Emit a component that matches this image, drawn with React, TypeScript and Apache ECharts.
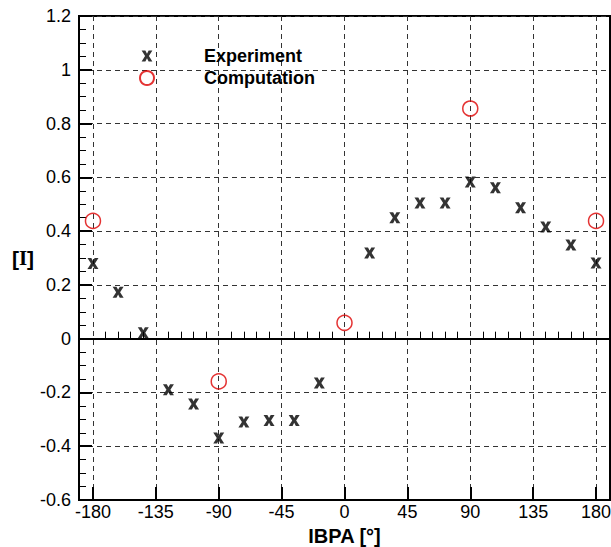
import React, { useEffect, useRef } from "react";
import * as echarts from "echarts";

const expAngles = [-180, -162, -144, -126, -108, -90, -72, -54, -36, -18, 18, 36, 54, 72, 90, 108, 126, 144, 162, 180];
const expValues = [0.28, 0.173, 0.022, -0.19, -0.243, -0.369, -0.31, -0.304, -0.304, -0.165, 0.319, 0.45, 0.505, 0.505, 0.583, 0.561, 0.487, 0.415, 0.348, 0.281];
const compAngles = [-180, -90, 0, 90, 180];
const compValues = [0.438, -0.159, 0.059, 0.856, 0.438];
const xMajorTicks = [-180, -135, -90, -45, 0, 45, 90, 135, 180];
const xMinorTicks: number[] = [];
for (let v = -180; v <= 180; v += 9) {
  if (v % 45 !== 0) xMinorTicks.push(v);
}

const FONT = "Liberation Sans, Arial, Helvetica, sans-serif";
const X_PATH =
  "M0,0 L3.5,0 L5,2.8 L6.5,0 L10,0 L6.8,5 L10,10 L6.5,10 L5,7.2 L3.5,10 L0,10 L3.2,5 Z";
const X_SYMBOL = "path://" + X_PATH;
// legend icon: same glyph with tiny corner specks so it is drawn at ~11px inside a 14px box
const X_LEGEND =
  "path://" + X_PATH + " M-1.5,-1.5 L-1.45,-1.5 L-1.5,-1.45 Z M11.5,11.5 L11.45,11.5 L11.5,11.45 Z";

export default function App() {
  const ref = useRef<HTMLDivElement>(null);
  useEffect(() => {
    if (!ref.current) return;
    const chart = echarts.init(ref.current, null, { renderer: "svg" });
    chart.setOption({
      animation: false,
      backgroundColor: "#ffffff",
      textStyle: { fontFamily: FONT },
      grid: {
        left: 79,
        top: 16,
        right: 1,
        bottom: 47,
        containLabel: false,
        outerBoundsMode: "none",
        show: true,
        borderColor: "#000",
        borderWidth: 2,
        backgroundColor: "transparent",
      },
      legend: {
        orient: "vertical",
        left: 139,
        top: 47,
        padding: 0,
        itemWidth: 14,
        itemHeight: 14,
        itemGap: 4,
        selectedMode: false,
        textStyle: {
          fontFamily: FONT,
          fontSize: 18,
          fontWeight: "bold",
          color: "#000",
          padding: [0, 0, 0, 45],
        },
        data: [
          { name: "Experiment", icon: X_LEGEND, itemStyle: { color: "#000", borderWidth: 0 } },
          { name: "Computation", icon: "circle" },
        ],
      },
      xAxis: [
        {
          type: "value",
          min: -190,
          max: 190,
          name: "IBPA [°]",
          nameLocation: "middle",
          nameGap: 8,
          nameTextStyle: { fontFamily: FONT, fontSize: 20, fontWeight: "bold", color: "#000" },
          axisLine: { show: true, onZero: false, lineStyle: { color: "#000", width: 2 } },
          axisTick: {
            show: true,
            inside: true,
            length: 13,
            customValues: xMajorTicks,
            lineStyle: { color: "#000", width: 2 },
          },
          axisLabel: {
            customValues: xMajorTicks,
            margin: 3,
            fontFamily: FONT,
            fontSize: 18,
            color: "#000",
          },
          splitLine: {
            show: true,
            lineStyle: { color: "#333", width: 1, type: [5, 4] },
          },
        },
        {
          type: "value",
          min: -190,
          max: 190,
          position: "bottom",
          axisLine: { show: false },
          axisLabel: { show: false },
          splitLine: { show: false },
          axisTick: {
            show: true,
            inside: true,
            length: 7,
            customValues: xMinorTicks,
            lineStyle: { color: "#000", width: 1 },
          },
        },
      ],
      yAxis: {
        type: "value",
        min: -0.6,
        max: 1.2,
        interval: 0.2,
        name: "{b|[}{i|I}{b|]}",
        nameLocation: "middle",
        nameRotate: 0,
        nameGap: 42,
        nameTextStyle: {
          rich: {
            b: { fontFamily: FONT, fontSize: 21, fontWeight: "bold", color: "#000" },
            i: { fontFamily: "Liberation Serif, DejaVu Serif, serif", fontSize: 21, fontWeight: "bold", color: "#000" },
          },
        },
        axisLine: { show: true, onZero: false, lineStyle: { color: "#000", width: 2 } },
        axisTick: { show: true, inside: true, length: 13, lineStyle: { color: "#000", width: 2 } },
        minorTick: { show: true, splitNumber: 4, length: 7, lineStyle: { color: "#000", width: 1 } },
        axisLabel: {
          margin: 8,
          fontFamily: FONT,
          fontSize: 18,
          color: "#000",
        },
        splitLine: { show: true, lineStyle: { color: "#333", width: 1, type: [5, 4] } },
      },
      series: [
        {
          name: "Experiment",
          type: "scatter",
          xAxisIndex: 0,
          symbol: X_SYMBOL,
          symbolSize: [11, 11],
          itemStyle: { color: "#000" },
          data: expAngles.map((a, i) => [a, expValues[i]]),
          markLine: {
            silent: true,
            symbol: ["none", "none"],
            label: { show: false },
            lineStyle: { color: "#000", width: 2, type: "solid" },
            data: [{ yAxis: 0 }],
          },
          z: 3,
        },
        {
          name: "Computation",
          type: "scatter",
          xAxisIndex: 0,
          symbol: "circle",
          symbolSize: 15,
          itemStyle: { color: "rgba(255,255,255,0)", borderColor: "#dd0000", borderWidth: 1.5 },
          data: compAngles.map((a, i) => [a, compValues[i]]),
          z: 4,
        },
      ],
    });
    return () => chart.dispose();
  }, []);
  return <div ref={ref} style={{ width: 611, height: 547, position: "absolute", left: 0, top: 0 }} />;
}
